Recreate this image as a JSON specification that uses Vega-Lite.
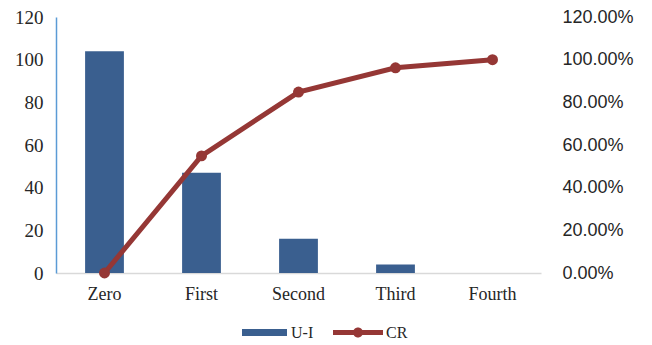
{
  "$schema": "https://vega.github.io/schema/vega-lite/v6.json",
  "width": 485,
  "height": 256,
  "autosize": "none",
  "padding": {"left": 56, "top": 17, "right": 111, "bottom": 72},
  "background": "white",
  "config": {"view": {"stroke": null}},
  "data": {"values": [
    {"cat": "Zero", "ui": 104, "cr": 0.0},
    {"cat": "First", "ui": 47, "cr": 0.549},
    {"cat": "Second", "ui": 16, "cr": 0.848},
    {"cat": "Third", "ui": 4, "cr": 0.962},
    {"cat": "Fourth", "ui": 0, "cr": 1.0}
  ]},
  "encoding": {
    "x": {
      "field": "cat", "type": "nominal", "sort": null,
      "scale": {"paddingInner": 0.6, "paddingOuter": 0.3},
      "axis": {"title": null, "labelAngle": 0, "labelFont": "Liberation Serif", "labelFontSize": 18, "labelColor": "#262626", "labelPadding": 12, "ticks": false, "domainColor": "#d9d9d9", "domainWidth": 1.5, "grid": false}
    }
  },
  "layer": [
    {
      "mark": {"type": "bar", "color": "#3a5f8f"},
      "encoding": {
        "y": {
          "field": "ui", "type": "quantitative",
          "scale": {"domain": [0, 120], "nice": false},
          "axis": {"title": null, "values": [0, 20, 40, 60, 80, 100, 120], "grid": false, "ticks": false, "domainColor": "#5b9bd5", "domainWidth": 1.5, "labelFont": "Liberation Serif", "labelFontSize": 19, "labelColor": "#262626", "labelPadding": 13}
        },
        "color": {
          "datum": "U-I", "type": "nominal",
          "scale": {"range": ["#3a5f8f"]},
          "legend": {
            "title": null, "orient": "none", "legendX": 186, "legendY": 293, "padding": 0,
            "symbolType": "M-1,-0.156H1V0.156H-1Z", "symbolSize": 2025, "symbolStrokeWidth": 0,
            "labelFont": "Liberation Serif", "labelFontSize": 16, "labelColor": "#262626", "labelOffset": 4,
            "encode": {"symbols": {"update": {"fill": {"value": "#3a5f8f"}, "stroke": {"value": "transparent"}}}}
          }
        }
      }
    },
    {
      "mark": {"type": "line", "color": "#953735", "strokeWidth": 5, "point": {"size": 120, "color": "#953735", "filled": true}},
      "encoding": {
        "y": {
          "field": "cr", "type": "quantitative",
          "scale": {"domain": [0, 1.2], "nice": false},
          "axis": {"title": null, "orient": "right", "format": ".2%", "values": [0, 0.2, 0.4, 0.6, 0.8, 1.0, 1.2], "grid": false, "ticks": false, "domain": false, "labelFont": "Liberation Sans", "labelFontSize": 18, "labelColor": "#262626", "labelPadding": 21}
        },
        "color": {
          "datum": "CR", "type": "nominal",
          "scale": {"range": ["#953735"]},
          "legend": {
            "title": null, "orient": "none", "legendX": 277, "legendY": 290.5, "padding": 0,
            "symbolType": "M-1,-0.1H1V0.1H-1Z M-0.2,0A0.2,0.2 0 1,1 0.2,0A0.2,0.2 0 1,1 -0.2,0Z", "symbolSize": 2500, "symbolStrokeWidth": 0,
            "labelFont": "Liberation Serif", "labelFontSize": 16, "labelColor": "#262626", "labelOffset": 3,
            "encode": {"symbols": {"update": {"fill": {"value": "#953735"}, "stroke": {"value": "transparent"}, "opacity": {"value": 1}}}}
          }
        }
      }
    }
  ],
  "resolve": {"scale": {"y": "independent", "color": "independent"}}
}
